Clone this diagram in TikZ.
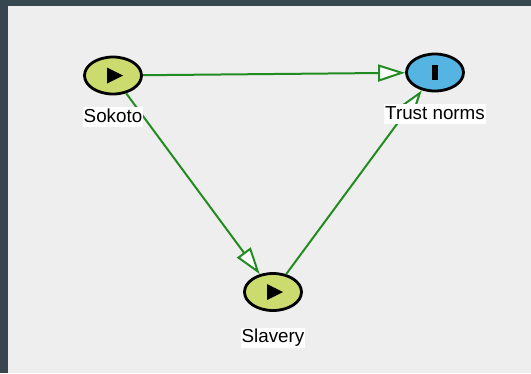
\documentclass[tikz,border=0pt]{standalone}
\usepackage{fontspec}
\setmainfont{Liberation Sans}
\usetikzlibrary{arrows.meta,shapes.geometric}

\definecolor{frame}{RGB}{55,71,79}
\definecolor{canvas}{RGB}{238,238,238}
\definecolor{olive}{RGB}{203,219,110}
\definecolor{sky}{RGB}{86,180,227}
\definecolor{edgegreen}{RGB}{34,139,34}

\tikzset{
  var/.style={ellipse, draw=black, line width=2.8pt, minimum width=57pt, minimum height=37pt, inner sep=0pt},
  play/.style={path picture={\fill[black] ([xshift=-6pt,yshift=-8pt]path picture bounding box.center) -- ++(16pt,8pt) -- ++(-16pt,8pt) -- cycle;}},
  bar/.style={path picture={\fill[black] ([xshift=-3pt,yshift=-7.5pt]path picture bounding box.center) rectangle ++(6pt,15pt);}},
  link/.style={draw=edgegreen, line width=2pt, -{Triangle[length=27pt, width=17pt, fill=white]}},
  lbl/.style={fill=white, inner xsep=1pt, inner ysep=1pt, text height=14pt, text depth=4pt, font=\fontsize{18.8}{21}\selectfont}
}

\begin{document}
\begin{tikzpicture}[x=1pt, y=-1pt]
        % Cornice e sfondo
        \fill[frame] (0,0) rectangle (531,373);
        \fill[canvas] (8,6) rectangle (531,373);

        % Nodi
        \node[var, fill=olive, play] (sokoto_node) at (113,75.5) {};
        \node[var, fill=sky, bar] (trust_node) at (435,72.5) {};
        \node[var, fill=olive, play] (slavery_node) at (273,292) {};

        % Archi
        \draw[link] (sokoto_node) -- (trust_node);
        \draw[link] (sokoto_node) -- (slavery_node);
        \draw[link] (slavery_node) -- (trust_node);

        % Etichette
        \node[lbl] (sokoto_label) at (113,117) {Sokoto};
        \node[lbl] (trust_label) at (435,114) {Trust norms};
        \node[lbl] (slavery_label) at (273,337.5) {Slavery};
    \end{tikzpicture}
\end{document}
